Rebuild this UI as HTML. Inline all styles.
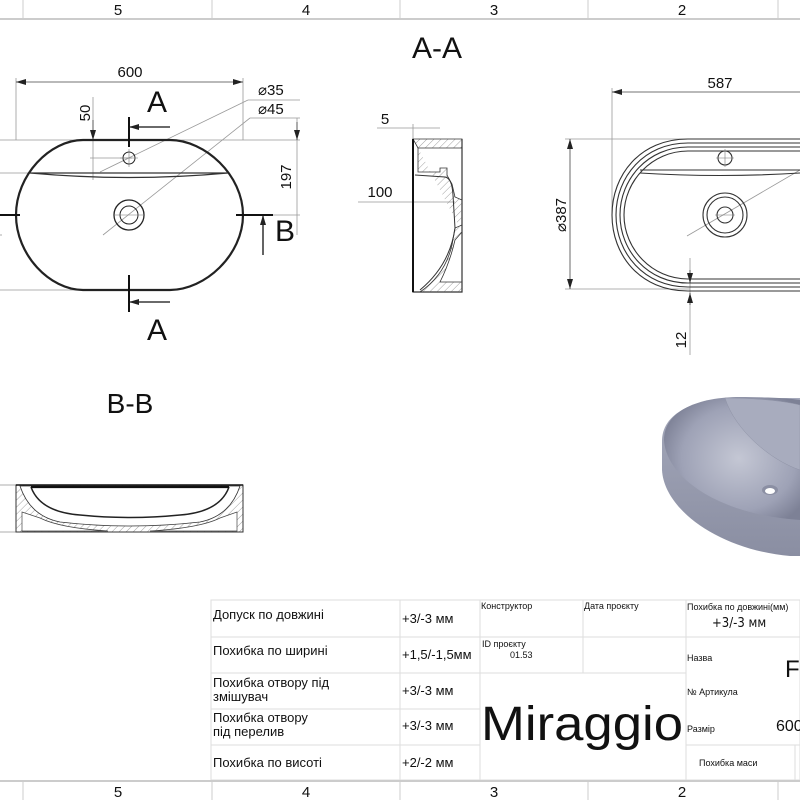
<!DOCTYPE html>
<html><head><meta charset="utf-8"><style>
html,body{margin:0;padding:0;background:#fff;}
svg{display:block;}
text{font-family:"Liberation Sans","DejaVu Sans",sans-serif;fill:#111;}
.t{font-family:"DejaVu Sans Condensed","Liberation Sans",sans-serif;}
</style></head><body>
<svg width="800" height="800" viewBox="0 0 800 800" xmlns="http://www.w3.org/2000/svg">
<defs>
<marker id="ar" viewBox="0 0 10 6" refX="10" refY="3" markerWidth="10" markerHeight="6" orient="auto-start-reverse" markerUnits="userSpaceOnUse"><path d="M0,0 L10,3 L0,6 z" fill="#222"/></marker>
<pattern id="h" width="5" height="5" patternUnits="userSpaceOnUse" patternTransform="rotate(45)"><line x1="0" y1="0" x2="0" y2="5" stroke="#888" stroke-width="0.8"/></pattern>
<radialGradient id="g3" cx="0.55" cy="0.5" r="0.6"><stop offset="0" stop-color="#c4c7d4"/><stop offset="0.7" stop-color="#9ea2b6"/><stop offset="1" stop-color="#7d8196"/></radialGradient>
<linearGradient id="g4" x1="0" y1="0" x2="0" y2="1"><stop offset="0" stop-color="#a5a9bb"/><stop offset="1" stop-color="#8a8ea2"/></linearGradient>
</defs>

<!-- frame -->
<g stroke="#bbb" stroke-width="1.5" fill="none">
<line x1="0" y1="19" x2="800" y2="19"/>
<line x1="0" y1="781" x2="800" y2="781"/>
</g>
<g stroke="#ccc" stroke-width="1">
<line x1="23" y1="0" x2="23" y2="19"/><line x1="212" y1="0" x2="212" y2="19"/><line x1="400" y1="0" x2="400" y2="19"/><line x1="588" y1="0" x2="588" y2="19"/><line x1="778" y1="0" x2="778" y2="19"/>
<line x1="23" y1="781" x2="23" y2="800"/><line x1="212" y1="781" x2="212" y2="800"/><line x1="400" y1="781" x2="400" y2="800"/><line x1="588" y1="781" x2="588" y2="800"/><line x1="778" y1="781" x2="778" y2="800"/>
</g>
<g font-size="15" text-anchor="middle">
<text x="118" y="15">5</text><text x="306" y="15">4</text><text x="494" y="15">3</text><text x="682" y="15">2</text>
<text x="118" y="797">5</text><text x="306" y="797">4</text><text x="494" y="797">3</text><text x="682" y="797">2</text>
</g>

<text x="437" y="58" font-size="30" text-anchor="middle">A-A</text>
<text x="130" y="413" font-size="28" text-anchor="middle">B-B</text>

<!-- plan view left -->
<g stroke="#999" stroke-width="0.8" fill="none">
<line x1="16" y1="78" x2="16" y2="140"/><line x1="243" y1="78" x2="243" y2="140"/>
<line x1="0" y1="140" x2="300" y2="140"/>
<line x1="0" y1="173" x2="40" y2="173"/>
<line x1="0" y1="290" x2="130" y2="290"/>
<line x1="90" y1="158" x2="132" y2="158"/>
<line x1="236" y1="215" x2="300" y2="215"/>
<line x1="248" y1="100" x2="300" y2="100"/><line x1="248" y1="100" x2="100" y2="172"/>
<line x1="250" y1="118" x2="300" y2="118"/><line x1="250" y1="118" x2="103" y2="235"/>
<line x1="93" y1="97" x2="93" y2="180"/>
<line x1="297" y1="118" x2="297" y2="235"/>
<line x1="0" y1="235" x2="2" y2="235"/>
</g>
<line x1="16" y1="82" x2="243" y2="82" stroke="#444" stroke-width="0.8" marker-start="url(#ar)" marker-end="url(#ar)"/>
<line x1="93" y1="120" x2="93" y2="140" stroke="#444" stroke-width="0.8" marker-end="url(#ar)"/>
<line x1="297" y1="122" x2="297" y2="140" stroke="#444" stroke-width="0.8" marker-end="url(#ar)"/>
<text x="130" y="77" font-size="15" text-anchor="middle">600</text>
<text x="258" y="95" font-size="15">⌀35</text>
<text x="258" y="114" font-size="15">⌀45</text>
<text transform="translate(90,113) rotate(-90)" font-size="15" text-anchor="middle">50</text>
<text transform="translate(291,177) rotate(-90)" font-size="15" text-anchor="middle">197</text>

<path d="M83,140 L170,140 C205,140 243,175 243,215 C243,255 205,290 170,290 L83,290 C50,290 16,255 16,215 C16,175 50,140 83,140 Z" fill="none" stroke="#222" stroke-width="2.2"/>
<path d="M30,173 L228,173 M30,173 Q130,182 228,173" fill="none" stroke="#333" stroke-width="1.3"/>
<circle cx="129" cy="158" r="6" fill="none" stroke="#222" stroke-width="1"/>
<circle cx="129" cy="215" r="15" fill="none" stroke="#222" stroke-width="1.3"/>
<circle cx="129" cy="215" r="9" fill="none" stroke="#222" stroke-width="1"/>
<g stroke="#777" stroke-width="0.6"><line x1="120" y1="158" x2="138" y2="158"/><line x1="129" y1="149" x2="129" y2="167"/><line x1="113" y1="215" x2="145" y2="215"/></g>
<g stroke="#111" stroke-width="2">
<line x1="129" y1="117" x2="129" y2="147"/><line x1="129" y1="275" x2="129" y2="312"/>
<line x1="0" y1="215" x2="20" y2="215"/><line x1="236" y1="215" x2="273" y2="215"/>
</g>
<g stroke="#111" stroke-width="1.3">
<line x1="129" y1="127" x2="170" y2="127" marker-start="url(#ar)"/>
<line x1="129" y1="302" x2="170" y2="302" marker-start="url(#ar)"/>
<line x1="263" y1="215" x2="263" y2="255" marker-start="url(#ar)"/>
</g>
<text x="157" y="112" font-size="30" text-anchor="middle">A</text>
<text x="157" y="340" font-size="30" text-anchor="middle">A</text>
<text x="285" y="241" font-size="30" text-anchor="middle">B</text>

<!-- section A-A -->
<g stroke="#999" stroke-width="0.8">
<line x1="377" y1="128" x2="440" y2="128"/><line x1="358" y1="202" x2="455" y2="202"/>
<line x1="413" y1="124" x2="413" y2="139"/>
</g>
<text x="385" y="124" font-size="15" text-anchor="middle">5</text>
<text x="380" y="197" font-size="15" text-anchor="middle">100</text>
<path d="M413,139 L462,139 L462,148 L418,148 Z" fill="url(#h)" stroke="#333" stroke-width="0.8"/>
<path d="M413,139 L413,292 L462,292 L462,139" fill="none" stroke="#333" stroke-width="1.2"/>
<line x1="413" y1="139" x2="413" y2="292" stroke="#111" stroke-width="2"/>
<path d="M418,148 L418,172 L440,172 L440,168 L447,168 L447,175 L448,177 L452,184 L455,197 L462,200 L462,225 L455,228 L452,245 Q445,275 420,292 L462,292 L462,282 L440,282 Q450,262 455,240 L462,232" fill="url(#h)" stroke="#333" stroke-width="0.8"/>
<path d="M415,175 L445,177 Q452,178 453,195 L455,228 Q450,265 420,290" fill="none" stroke="#333" stroke-width="1"/>

<!-- right plan view -->
<g stroke="#999" stroke-width="0.8" fill="none">
<line x1="612" y1="88" x2="612" y2="215"/>
<line x1="565" y1="139" x2="700" y2="139"/><line x1="565" y1="289" x2="690" y2="289"/>
<line x1="690" y1="258" x2="690" y2="355"/>
<line x1="687" y1="236" x2="800" y2="170"/>
</g>
<line x1="612" y1="92" x2="800" y2="92" stroke="#444" stroke-width="0.8" marker-start="url(#ar)"/>
<line x1="570" y1="139" x2="570" y2="289" stroke="#444" stroke-width="0.8" marker-start="url(#ar)" marker-end="url(#ar)"/>
<line x1="690" y1="270" x2="690" y2="283" stroke="#444" stroke-width="0.8" marker-end="url(#ar)"/>
<line x1="690" y1="305" x2="690" y2="293" stroke="#444" stroke-width="0.8" marker-end="url(#ar)"/>
<text x="720" y="88" font-size="15" text-anchor="middle">587</text>
<text transform="translate(566,215) rotate(-90)" font-size="15" text-anchor="middle">⌀387</text>
<text transform="translate(686,340) rotate(-90)" font-size="15" text-anchor="middle">12</text>
<g fill="none" stroke="#333" stroke-width="1.1">
<path d="M688,139 L810,139 M688,291 L810,291 M688,139 C640,139 612,175 612,215 C612,255 640,291 688,291"/>
<path d="M688,143 L810,143 M688,287 L810,287 M688,143 C644,143 616,177 616,215 C616,253 644,287 688,287"/>
<path d="M688,147 L810,147 M688,283 L810,283 M688,147 C648,147 620,179 620,215 C620,251 648,283 688,283"/>
<path d="M688,151 L810,151 M688,279 L810,279 M688,151 C652,151 624,181 624,215 C624,249 652,279 688,279"/>
<path d="M640,170 L800,170 M640,173 Q720,178 800,173"/>
<circle cx="725" cy="158" r="7"/>
<circle cx="725" cy="215" r="22"/><circle cx="725" cy="215" r="18"/><circle cx="725" cy="215" r="8"/>
</g>
<g stroke="#777" stroke-width="0.6"><line x1="716" y1="158" x2="734" y2="158"/><line x1="725" y1="149" x2="725" y2="167"/><line x1="715" y1="215" x2="735" y2="215"/></g>

<!-- B-B section -->
<g stroke="#999" stroke-width="0.8"><line x1="0" y1="485" x2="16" y2="485"/><line x1="0" y1="532" x2="16" y2="532"/></g>
<path d="M16,485 L243,485 L243,532 L16,532 Z" fill="url(#h)" stroke="#333" stroke-width="1"/>
<path d="M20,486 Q30,516 60,522 Q130,530 200,522 Q230,516 240,486 Z" fill="#fff" stroke="#333" stroke-width="0.8"/>
<path d="M22,512 L22,531 L108,531 Q60,528 40,518 Z M237,512 L237,531 L150,531 Q200,528 220,518 Z" fill="#fff" stroke="#444" stroke-width="0.7"/>
<path d="M31,487 Q40,512 80,515 Q130,520 180,515 Q220,512 229,487" fill="none" stroke="#222" stroke-width="1.5"/>
<line x1="31" y1="487" x2="229" y2="487" stroke="#111" stroke-width="2.2"/>
<line x1="16" y1="485" x2="243" y2="485" stroke="#111" stroke-width="1.4"/>

<!-- 3D render -->
<path d="M740,398 C700,398 663,410 662,440 L662,470 C664,510 720,550 790,556 L800,556 L800,398 Z" fill="url(#g4)"/>
<path d="M740,397 C700,397 664,410 664,440 C666,478 720,515 800,520 L800,400 C790,398 760,397 740,397 Z" fill="url(#g3)"/>
<path d="M725,398 C735,430 770,460 800,470 L800,405 C780,400 750,398 725,398 Z" fill="#a8acbe" stroke="#8f93a6" stroke-width="0.5"/>
<ellipse cx="770" cy="490" rx="8" ry="5" fill="#8b8fa3"/><ellipse cx="770" cy="491" rx="5" ry="3" fill="#fff"/>

<!-- title block -->
<g stroke="#ddd" stroke-width="1" fill="none">
<rect x="211" y="600" width="589" height="180"/>
<line x1="211" y1="637" x2="480" y2="637"/><line x1="211" y1="673" x2="480" y2="673"/><line x1="211" y1="709" x2="480" y2="709"/><line x1="211" y1="745" x2="480" y2="745"/>
<line x1="400" y1="600" x2="400" y2="780"/><line x1="480" y1="600" x2="480" y2="780"/>
<line x1="480" y1="637" x2="686" y2="637"/><line x1="480" y1="673" x2="686" y2="673"/>
<line x1="583" y1="600" x2="583" y2="673"/>
<line x1="686" y1="600" x2="686" y2="780"/>
<line x1="686" y1="637" x2="800" y2="637"/><line x1="686" y1="745" x2="800" y2="745"/>
<line x1="795" y1="745" x2="795" y2="780"/>
</g>
<g class="t" font-size="13">
<text x="213" y="619">Допуск по довжині</text>
<text x="213" y="655">Похибка по ширині</text>
<text x="213" y="687">Похибка отвору під</text><text x="213" y="701">змішувач</text>
<text x="213" y="722">Похибка отвору</text><text x="213" y="736">під перелив</text>
<text x="213" y="767">Похибка по висоті</text>
<text x="402" y="623">+3/-3 мм</text>
<text x="402" y="659">+1,5/-1,5мм</text>
<text x="402" y="695">+3/-3 мм</text>
<text x="402" y="730">+3/-3 мм</text>
<text x="402" y="767">+2/-2 мм</text>
</g>
<g class="t" font-size="9">
<text x="481" y="609">Конструктор</text>
<text x="584" y="609">Дата проєкту</text>
<text x="482" y="647">ID проєкту</text>
<text x="510" y="658">01.53</text>
<text x="687" y="610">Похибка по довжині(мм)</text>
<text x="687" y="661">Назва</text>
<text x="687" y="695">№ Артикула</text>
<text x="687" y="732">Размір</text>
<text x="699" y="766">Похибка маси</text>
</g>
<text class="t" x="712" y="627" font-size="13">+3/-3 мм</text>
<text x="785" y="677" font-size="24">F</text>
<text x="776" y="731" font-size="16">600</text>
<text x="481" y="740" font-size="48" textLength="202" lengthAdjust="spacingAndGlyphs">Miraggio</text>
</svg>
</body></html>
